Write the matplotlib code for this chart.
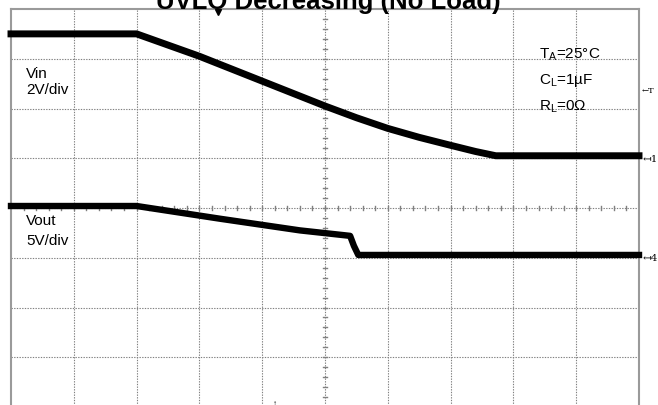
import matplotlib
matplotlib.use("Agg")
import matplotlib.pyplot as plt
import numpy as np

plt.rcParams['font.family'] = ['Liberation Sans', 'DejaVu Sans']

# time axis in divisions (10 div full screen)
vin_t = [0.0, 2.0, 2.5, 3.0, 4.0, 5.0, 5.5, 6.0, 6.5, 7.0, 7.4, 7.72, 10.0]
vin_v = [5.0, 5.0, 4.55, 4.1, 3.1, 2.1, 1.63, 1.2, 0.84, 0.52, 0.27, 0.1, 0.1]   # volts, 2 V/div

vout_t = [0.0, 2.0, 3.33, 4.6, 5.4, 5.46, 5.53, 10.0]
vout_v = [5.2, 5.2, 3.92, 2.75, 2.2, 1.2, 0.28, 0.28]        # volts, 5 V/div

VIN_SCALE, VIN_GND = 2.0, 5.0
VOUT_SCALE, VOUT_GND = 5.0, 3.0

W, H = 658, 406
fig = plt.figure(figsize=(W/100, H/100), dpi=100)
ax = fig.add_axes([11/W, (H-408)/H, 628/W, 398/H])
ax.set_xlim(0, 10)
ax.set_ylim(0, 8)
ax.set_xticks([]); ax.set_yticks([])

grid_c = '#808080'
for x in range(1, 10):
    ax.axvline(x, color=grid_c, lw=0.8, ls=(0, (1.2, 1.2)), zorder=1)
for y in range(1, 8):
    ax.axhline(y, color=grid_c, lw=0.8, ls=(0, (1.2, 1.2)), zorder=1)
# minor ticks on centre lines
for yy in np.arange(0.2, 8, 0.2):
    ax.plot([4.97, 5.03], [yy, yy], color=grid_c, lw=1.0, zorder=1)
for xx in np.arange(0.2, 10, 0.2):
    ax.plot([xx, xx], [3.96, 4.04], color=grid_c, lw=1.0, zorder=1)

for s in ['left', 'top', 'right']:
    ax.spines[s].set_color('#9a9a9a')
    ax.spines[s].set_linewidth(1.5)
ax.spines['bottom'].set_visible(False)

vin_y = [VIN_GND + v / VIN_SCALE for v in vin_v]
vout_y = [VOUT_GND + v / VOUT_SCALE for v in vout_v]
ax.plot(vin_t, vin_y, color='black', lw=5.0, solid_joinstyle='round', zorder=3, clip_on=False)
ax.plot(vout_t, vout_y, color='black', lw=4.6, solid_joinstyle='round', zorder=3, clip_on=False)

fs = 11
ax.text(0.24, 6.72, 'Vin', fontsize=fs, va='center')
ax.text(0.24, 6.4, '2V/div', fontsize=fs, va='center')
ax.text(0.24, 3.76, 'Vout', fontsize=fs, va='center')
ax.text(0.24, 3.35, '5V/div', fontsize=fs, va='center')

ax.text(8.4, 7.1, r'T$_\mathregular{A}$=25°C', fontsize=fs, va='center')
ax.text(8.4, 6.58, r'C$_\mathregular{L}$=1µF', fontsize=fs, va='center')
ax.text(8.4, 6.05, r'R$_\mathregular{L}$=0Ω', fontsize=fs, va='center')

# channel markers on right
ax.text(10.05, 6.37, '←T', fontsize=6, va='center', family='DejaVu Serif', clip_on=False)
ax.text(10.05, 5.0, '↤1', fontsize=7.5, va='center', family='DejaVu Serif', clip_on=False)
ax.text(10.05, 3.0, '↤4', fontsize=7.5, va='center', family='DejaVu Serif', clip_on=False)
# trigger markers
ax.plot([3.3], [7.93], marker='v', color='black', ms=4, clip_on=False, zorder=4)
ax.text(4.2, 0.08, '↑', fontsize=6, ha='center', va='center')

fig.text(328/W, 1 - 8.5/H, 'UVLO Decreasing (No Load)', fontsize=18.5, fontweight='bold',
         ha='center', va='baseline')

fig.savefig('out.png', dpi=100)
